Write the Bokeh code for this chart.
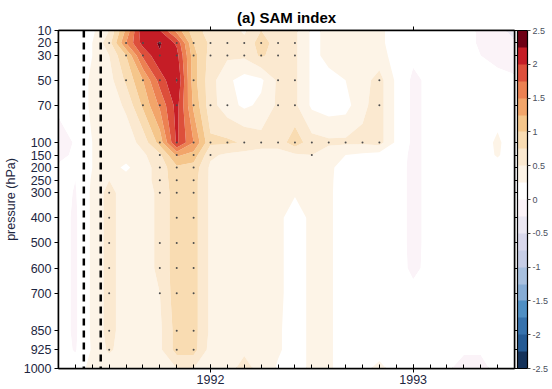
import numpy as np
from bokeh.plotting import figure
from bokeh.models import (Range1d, FixedTicker, LinearAxis, Span, ColorBar,
                          LinearColorMapper, NumeralTickFormatter)
from bokeh.embed import file_html
from bokeh.resources import INLINE

# ---------------- data ----------------
pressure_hpa = [10, 20, 30, 50, 70, 100, 150, 200, 250, 300, 400, 500, 600, 700, 850, 925, 1000]
# months since Jan 1991 : Apr 1991 ... Jul 1993
month_index = list(range(3, 31))
year_ticks = [12, 24]
year_labels = ["1992", "1993"]
event_months = [4.5, 5.5]          # two dashed reference dates (mid-May, mid-June 1991)
cbar_ticks = [-2.5, -2, -1.5, -1, -0.5, 0, 0.5, 1, 1.5, 2, 2.5]

sam_10 = [0.05, 0.12, 0.2, 0.5, 1.3, 2.2, 2.0, 1.4, 0.85, 0.65, 0.65, 0.45, 0.75, 0.6, 0.55, 0.2, 0.3, 0.35, 0.35, 0.3, 0.15, 0.1, 0.08, 0.05, 0.05, -0.02, -0.1, -0.4]
sam_20 = [0.05, 0.15, 0.25, 0.65, 1.5, 2.1, 2.28, 1.95, 1.0, 0.7, 0.65, 0.6, 0.85, 0.65, 0.55, 0.2, 0.3, 0.35, 0.35, 0.3, 0.15, 0.05, 0.05, 0.05, 0.05, -0.02, -0.08, -0.2]
sam_30 = [0.05, 0.15, 0.25, 0.5, 1.0, 1.8, 2.22, 2.1, 1.1, 0.65, 0.55, 0.55, 0.8, 0.6, 0.55, 0.2, 0.3, 0.35, 0.35, 0.35, 0.15, 0.05, 0.05, 0.05, 0.05, 0.0, -0.05, -0.06]
sam_50 = [0.05, 0.15, 0.28, 0.4, 0.8, 1.25, 1.85, 2.27, 1.1, 0.6, 0.3, 0.15, 0.2, 0.55, 0.55, 0.2, 0.2, 0.25, 0.4, 0.6, 0.2, -0.05, 0.05, 0.05, 0.05, 0.05, 0.05, 0.02]
sam_70 = [0.05, 0.15, 0.28, 0.35, 0.55, 1.05, 1.55, 2.1, 1.2, 0.6, 0.35, 0.2, 0.3, 0.55, 0.55, 0.2, 0.12, 0.15, 0.45, 0.6, 0.2, -0.05, 0.05, 0.05, 0.08, 0.08, 0.12, 0.05]
sam_100 = [-0.1, 0.02, 0.25, 0.35, 0.35, 0.6, 1.1, 2.05, 1.5, 0.8, 0.8, 0.72, 0.6, 0.6, 0.9, 0.6, 0.55, 0.55, 0.55, 0.6, 0.2, -0.05, 0.05, 0.08, 0.1, 0.12, 0.3, 0.08]
sam_150 = [-0.08, 0.05, 0.25, 0.35, 0.35, 0.45, 0.7, 1.3, 1.15, 0.55, 0.45, 0.4, 0.4, 0.4, 0.45, 0.5, 0.35, 0.25, 0.2, 0.15, 0.1, -0.05, 0.05, 0.08, 0.1, 0.12, 0.28, 0.08]
sam_200 = [0.05, 0.05, 0.25, 0.35, 0.2, 0.4, 0.6, 0.95, 0.9, 0.45, 0.4, 0.4, 0.4, 0.35, 0.38, 0.35, 0.3, 0.15, 0.1, 0.1, 0.08, -0.05, 0.05, 0.05, 0.05, 0.08, 0.12, 0.05]
sam_250 = [0.05, 0.0, 0.28, 0.5, 0.35, 0.4, 0.6, 0.9, 0.85, 0.45, 0.4, 0.4, 0.4, 0.32, 0.35, 0.3, 0.3, 0.12, 0.08, 0.08, 0.08, -0.05, 0.05, 0.05, 0.05, 0.05, 0.05, 0.05]
sam_300 = [0.1, -0.02, 0.3, 0.6, 0.35, 0.4, 0.55, 0.9, 0.85, 0.45, 0.4, 0.4, 0.38, 0.3, 0.27, 0.3, 0.3, 0.1, 0.08, 0.08, 0.08, -0.05, 0.05, 0.05, 0.05, 0.05, 0.05, 0.05]
sam_400 = [0.1, -0.04, 0.3, 0.6, 0.35, 0.4, 0.55, 0.9, 0.85, 0.45, 0.4, 0.4, 0.38, 0.3, 0.15, 0.3, 0.3, 0.1, 0.08, 0.08, 0.08, -0.05, 0.05, 0.05, 0.05, 0.05, 0.05, 0.05]
sam_500 = [0.1, -0.04, 0.3, 0.6, 0.35, 0.4, 0.55, 0.9, 0.85, 0.45, 0.4, 0.4, 0.38, 0.3, 0.15, 0.3, 0.3, 0.1, 0.08, 0.08, 0.08, -0.05, 0.05, 0.05, 0.05, 0.05, 0.05, 0.05]
sam_600 = [0.1, -0.04, 0.3, 0.6, 0.35, 0.4, 0.55, 0.9, 0.85, 0.45, 0.4, 0.4, 0.38, 0.3, 0.15, 0.3, 0.3, 0.1, 0.08, 0.08, 0.08, -0.04, 0.05, 0.05, 0.05, 0.05, 0.05, 0.05]
sam_700 = [0.1, -0.04, 0.3, 0.6, 0.35, 0.4, 0.5, 0.9, 0.85, 0.45, 0.4, 0.4, 0.38, 0.3, 0.15, 0.3, 0.3, 0.1, 0.08, 0.08, 0.08, 0.05, 0.05, 0.05, 0.05, 0.05, 0.05, 0.05]
sam_850 = [0.1, -0.04, 0.3, 0.6, 0.35, 0.4, 0.45, 0.85, 0.85, 0.45, 0.4, 0.4, 0.38, 0.28, 0.15, 0.3, 0.3, 0.1, 0.08, 0.08, 0.08, 0.05, 0.05, 0.05, 0.05, 0.05, 0.05, 0.05]
sam_925 = [0.1, -0.02, 0.28, 0.55, 0.35, 0.4, 0.45, 0.85, 0.85, 0.4, 0.4, 0.45, 0.38, 0.28, 0.15, 0.3, 0.3, 0.1, 0.08, 0.1, 0.08, 0.05, 0.05, 0.05, 0.02, 0.02, 0.05, 0.05]
sam_1000 = [0.1, 0.1, 0.35, 0.3, 0.3, 0.3, 0.35, 0.5, 0.5, 0.35, 0.4, 0.6, 0.4, 0.22, 0.15, 0.3, 0.3, 0.1, 0.15, 0.35, 0.1, 0.05, 0.05, 0.02, -0.05, -0.05, 0.05, 0.05]

# significant points (column numbers 0..27 of month_index) per level
sig_20 = list(range(3, 15))
sig_30 = list(range(4, 15))
sig_50 = [4, 5, 6, 7, 8, 13, 14, 19]
sig_70 = [5, 6, 7, 8, 9, 10, 13, 14, 19]
sig_100 = list(range(6, 20))
sig_150 = [6, 7, 8, 9, 15]
sig_200 = [6, 7, 8]
sig_250 = [6, 7, 8]
sig_300 = [3, 6, 7, 8]
sig_400 = [3, 7, 8]
sig_500 = [3, 6, 7, 8]
sig_600 = [3, 6, 7, 8]
sig_700 = [3, 6, 7, 8]
sig_850 = [3, 7, 8]
sig_925 = [3, 7, 8]

palette = ["#14325a", "#245a94", "#3672ad", "#4f8fc4", "#86acd5", "#a8c0df",
           "#c6cde6", "#d9d8ec", "#ece8f3", "#fbf3f8",
           "#ffffff", "#fdf4e7", "#fbe9d0", "#f9dcb2", "#f5c68b", "#f2a56a",
           "#ec8152", "#dd4f3b", "#c51d26", "#6e0015"]

# ---------------- build ----------------
sam_rows = [sam_10, sam_20, sam_30, sam_50, sam_70, sam_100, sam_150, sam_200, sam_250,
            sam_300, sam_400, sam_500, sam_600, sam_700, sam_850, sam_925, sam_1000]
sig_rows = {20: sig_20, 30: sig_30, 50: sig_50, 70: sig_70, 100: sig_100, 150: sig_150,
            200: sig_200, 250: sig_250, 300: sig_300, 400: sig_400, 500: sig_500,
            600: sig_600, 700: sig_700, 850: sig_850, 925: sig_925}


def y_of(p):
    # pressure axis: 10-100 hPa stretched, 100-1000 hPa linear
    return (p - 10) * 112.0 / 90.0 if p <= 100 else 112.0 + (p - 100) * 226.0 / 900.0


ys = np.array([y_of(p) for p in pressure_hpa])
xs = np.array(month_index, dtype=float)
Z = np.array(sam_rows, dtype=float)
levels = np.linspace(-2.5, 2.5, 21)

ink = "#1d2640"
p = figure(frame_width=456, frame_height=338, output_backend="svg", toolbar_location=None,
           x_range=Range1d(month_index[0], month_index[-1]),
           y_range=Range1d(y_of(1000), y_of(10)),
           min_border_left=57, min_border_right=39, min_border_top=30, min_border_bottom=21,
           background_fill_color="white", border_fill_color="white")
p.grid.visible = False
p.outline_line_color = "black"
p.outline_line_width = 1.5

p.contour(x=xs, y=ys, z=Z, levels=levels, fill_color=palette, line_color=None)

dx, dy = [], []
for pr, cols in sig_rows.items():
    for c in cols:
        dx.append(month_index[c])
        dy.append(y_of(pr))
p.scatter(dx, dy, size=2, color="#4d4d4d", line_color=None)

for ev in event_months:
    p.add_layout(Span(location=ev, dimension="height", line_color="black",
                      line_width=2.5, line_dash="7 5"))

# title
p.title.text = "(a) SAM index"
p.title.align = "center"
p.title.text_font = "Liberation Sans"
p.title.text_font_size = "15px"
p.title.text_font_style = "bold"
p.title.text_color = "black"
p.title.offset = 0
p.title.standoff = 2

# bottom axis
xa = p.xaxis[0]
xa.ticker = FixedTicker(ticks=year_ticks, minor_ticks=month_index)
xa.major_label_overrides = {t: l for t, l in zip(year_ticks, year_labels)}
xa.major_tick_in = 4
xa.major_tick_out = 4
xa.minor_tick_in = 4
xa.minor_tick_out = 0
xa.axis_line_width = 1.5
xa.major_label_text_font = "Liberation Sans"
xa.major_label_text_font_size = "12.5px"
xa.major_label_text_color = ink
xa.major_label_standoff = 2

# left axis
ytick = [y_of(pr) for pr in pressure_hpa]
ya = p.yaxis[0]
ya.ticker = FixedTicker(ticks=ytick, minor_ticks=[])
ya.major_label_overrides = {y_of(pr): str(pr) for pr in pressure_hpa}
ya.major_tick_in = 0
ya.major_tick_out = 4
ya.axis_line_width = 1.5
ya.major_label_text_font = "Liberation Sans"
ya.major_label_text_font_size = "12.5px"
ya.major_label_text_color = ink
ya.major_label_standoff = 3
ya.axis_label = "pressure (hPa)"
ya.axis_label_text_font = "Liberation Sans"
ya.axis_label_text_font_size = "12.5px"
ya.axis_label_text_font_style = "normal"
ya.axis_label_text_color = ink
ya.axis_label_standoff = 3

# top axis (ticks only, labels not drawn)
top = LinearAxis(ticker=FixedTicker(ticks=year_ticks, minor_ticks=[]),
                 major_label_text_color=None, major_label_text_font_size="1px",
                 major_label_standoff=0,
                 major_tick_in=0, major_tick_out=4, minor_tick_in=0, minor_tick_out=0,
                 axis_line_width=1.5)
p.add_layout(top, "above")

# right axis (ticks only, labels not drawn)
right = LinearAxis(ticker=FixedTicker(ticks=ytick, minor_ticks=[]),
                   major_label_text_color=None, major_label_text_font_size="1px",
                   major_label_standoff=0,
                   major_tick_in=0, major_tick_out=3, minor_tick_in=0, minor_tick_out=0,
                   axis_line_width=1.5)
p.add_layout(right, "right")

mapper = LinearColorMapper(palette=palette, low=-2.5, high=2.5)
cb = ColorBar(color_mapper=mapper, ticker=FixedTicker(ticks=cbar_ticks, minor_ticks=[]),
              formatter=NumeralTickFormatter(format="0.[0]"),
              width=10, padding=0, margin=0, label_standoff=2,
              major_tick_in=0, major_tick_out=3, major_tick_line_color="#444444",
              minor_tick_line_color=None,
              bar_line_color="black", bar_line_width=1.2,
              border_line_color=None, background_fill_color=None,
              major_label_text_font="Liberation Sans",
              major_label_text_font_size="9px", major_label_text_color="#4a4f5e")
p.add_layout(cb, "right")

open("out.html", "w").write(file_html(p, INLINE))
